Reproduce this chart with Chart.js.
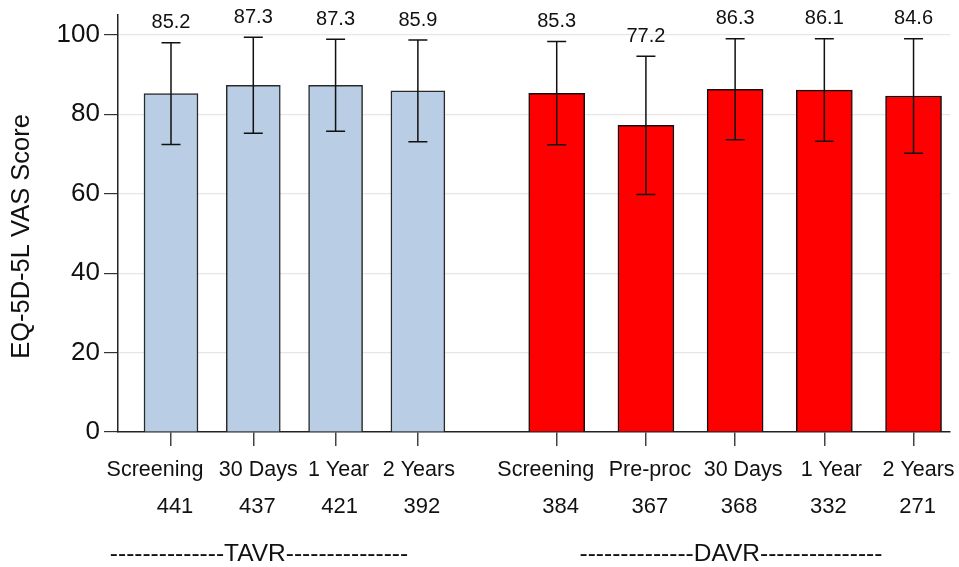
<!DOCTYPE html>
<html><head><meta charset="utf-8">
<script src="https://cdn.jsdelivr.net/npm/chart.js@4/dist/chart.umd.min.js"></script>
<style>html,body{margin:0;padding:0;background:#fff}#wrap{width:959px;height:567px;position:relative}</style>
</head><body><div id="wrap"><canvas id="c"></canvas></div>
<script>
// ---- data ----
const tavrCategories = ['Screening', '30 Days', '1 Year', '2 Years'];
const tavrN = [441, 437, 421, 392];
const tavrMeans = [85.2, 87.3, 87.3, 85.9];
const tavrSD = [12.8, 12.1, 11.6, 12.8];

const davrCategories = ['Screening', 'Pre-proc', '30 Days', '1 Year', '2 Years'];
const davrN = [384, 367, 368, 332, 271];
const davrMeans = [85.3, 77.2, 86.3, 86.1, 84.6];
const davrSD = [13.0, 17.4, 12.7, 12.9, 14.4];

const groupNames = ['TAVR', 'DAVR'];
const yTicks = [0, 20, 40, 60, 80, 100];
const yTitle = 'EQ-5D-5L VAS Score';

// ---- layout (scale units / pixel nudges, not data) ----
const X_MIN = 0.356, X_MAX = 10.466;
const UNIT_PX = 82.3;
const groupLayout = [
  { start: 1, step: 1, labelAt: 2.069 },
  { start: 5.687, step: 1.084, labelAt: 7.804 }
];
const nameNudgePx = [-16, 5, 3, 1, -11, 4, 8, 7, 5];
const countNudgePx = 4;
const FONT = '"Liberation Sans", Arial, Helvetica, sans-serif';

const allCats = tavrCategories.concat(davrCategories);
const allN = tavrN.concat(davrN);
const pos = (g, i) => groupLayout[g].start + i * groupLayout[g].step;
const tickPositions = tavrCategories.map((_, i) => pos(0, i)).concat(davrCategories.map((_, i) => pos(1, i)));
const namePositions = tickPositions.map((p, i) => p + nameNudgePx[i] / UNIT_PX);
const countPositions = tickPositions.map(p => p + countNudgePx / UNIT_PX);
const groupLabels = groupNames.map(n => '-'.repeat(14) + n + '-'.repeat(15));

const errorBars = {
  id: 'errorBars',
  afterDatasetsDraw(chart) {
    const ctx = chart.ctx, ys = chart.scales.y;
    const sds = [tavrSD, davrSD];
    chart.data.datasets.forEach((ds, di) => {
      const meta = chart.getDatasetMeta(di);
      meta.data.forEach((el, i) => {
        const m = ds.data[i].y, sd = sds[di][i];
        const yt = ys.getPixelForValue(m + sd), yb = ys.getPixelForValue(m - sd);
        const x = el.x, cap = 9.5;
        ctx.save();
        ctx.strokeStyle = '#111';
        ctx.lineWidth = 1.5;
        ctx.beginPath();
        ctx.moveTo(x, yt); ctx.lineTo(x, yb);
        ctx.moveTo(x - cap, yt); ctx.lineTo(x + cap, yt);
        ctx.moveTo(x - cap, yb); ctx.lineTo(x + cap, yb);
        ctx.stroke();
        ctx.fillStyle = '#111';
        ctx.font = '20px ' + FONT;
        ctx.textAlign = 'center';
        ctx.textBaseline = 'middle';
        ctx.fillText(m.toFixed(1), x, yt - 20);
        ctx.restore();
      });
    });
    // y axis title
    ctx.save();
    ctx.translate(22, 236.5);
    ctx.rotate(-Math.PI / 2);
    ctx.fillStyle = '#111';
    ctx.font = '25.5px ' + FONT;
    ctx.textAlign = 'center';
    ctx.textBaseline = 'middle';
    ctx.fillText(yTitle, 0, 0);
    ctx.restore();
  }
};

function fitX(height) {
  return function (scale) {
    scale.height = height;
    scale.paddingLeft = 0;
    scale.paddingRight = 0;
  };
}

function labelAxis(weight, positions, labels, size, padding, height) {
  return {
    type: 'linear',
    min: X_MIN, max: X_MAX,
    offset: false,
    weight: weight,
    position: 'bottom',
    afterBuildTicks(scale) { scale.ticks = positions.map(v => ({ value: v })); },
    afterFit: fitX(height),
    grid: { display: false, drawTicks: false, offset: false },
    border: { display: false },
    ticks: {
      autoSkip: false, maxRotation: 0, minRotation: 0,
      padding: padding,
      color: '#111',
      font: { family: FONT, size: size, lineHeight: 1.2 },
      callback: (v, i) => labels[i]
    }
  };
}

new Chart(document.getElementById('c'), {
  type: 'bar',
  data: {
    datasets: [
      {
        label: groupNames[0],
        data: tavrMeans.map((v, i) => ({ x: pos(0, i), y: v })),
        backgroundColor: '#B9CDE5',
        borderColor: '#2a2a2a',
        borderWidth: 1.5,
        barThickness: 54,
        grouped: false
      },
      {
        label: groupNames[1],
        data: davrMeans.map((v, i) => ({ x: pos(1, i), y: v })),
        backgroundColor: '#FF0000',
        borderColor: '#111',
        borderWidth: 1.5,
        barThickness: 56,
        grouped: false
      }
    ]
  },
  options: {
    responsive: true,
    maintainAspectRatio: false,
    animation: false,
    layout: { padding: { top: 15, right: 9, left: 0, bottom: 0 } },
    plugins: { legend: { display: false }, tooltip: { enabled: false } },
    scales: {
      x: {
        type: 'linear',
        min: X_MIN, max: X_MAX,
        offset: false,
        weight: 0,
        position: 'bottom',
        afterBuildTicks(scale) { scale.ticks = tickPositions.map(v => ({ value: v })); },
        afterFit: fitX(14),
        grid: { offset: false, drawOnChartArea: false, drawTicks: true, tickLength: 14, tickColor: '#444', lineWidth: 1.5 },
        border: { display: true, color: '#222', width: 1.5 },
        ticks: { display: false, autoSkip: false }
      },
      xNames: labelAxis(1, namePositions, allCats, 21.5, 11.1, 37),
      xCounts: labelAxis(2, countPositions, allN.map(String), 22, 11.1, 37),
      xGroups: labelAxis(3, groupLayout.map(g => g.labelAt), groupLabels, 24.5, 19.6, 47),
      y: {
        min: 0, max: 105,
        afterBuildTicks(scale) { scale.ticks = yTicks.map(v => ({ value: v })); },
        afterFit(scale) { scale.width = 118; scale.paddingTop = 0; scale.paddingBottom = 0; },
        grid: {
          color: ctx => (ctx.tick && ctx.tick.value === 0) ? 'rgba(0,0,0,0)' : '#E6E6E6',
          lineWidth: 1.2,
          drawTicks: true, tickLength: 14, tickColor: '#333'
        },
        border: { display: true, color: '#222', width: 1.5 },
        ticks: {
          padding: 4,
          color: '#111',
          font: { family: FONT, size: 26 },
          callback: v => String(v)
        }
      }
    }
  },
  plugins: [errorBars]
});
</script>
</body></html>
